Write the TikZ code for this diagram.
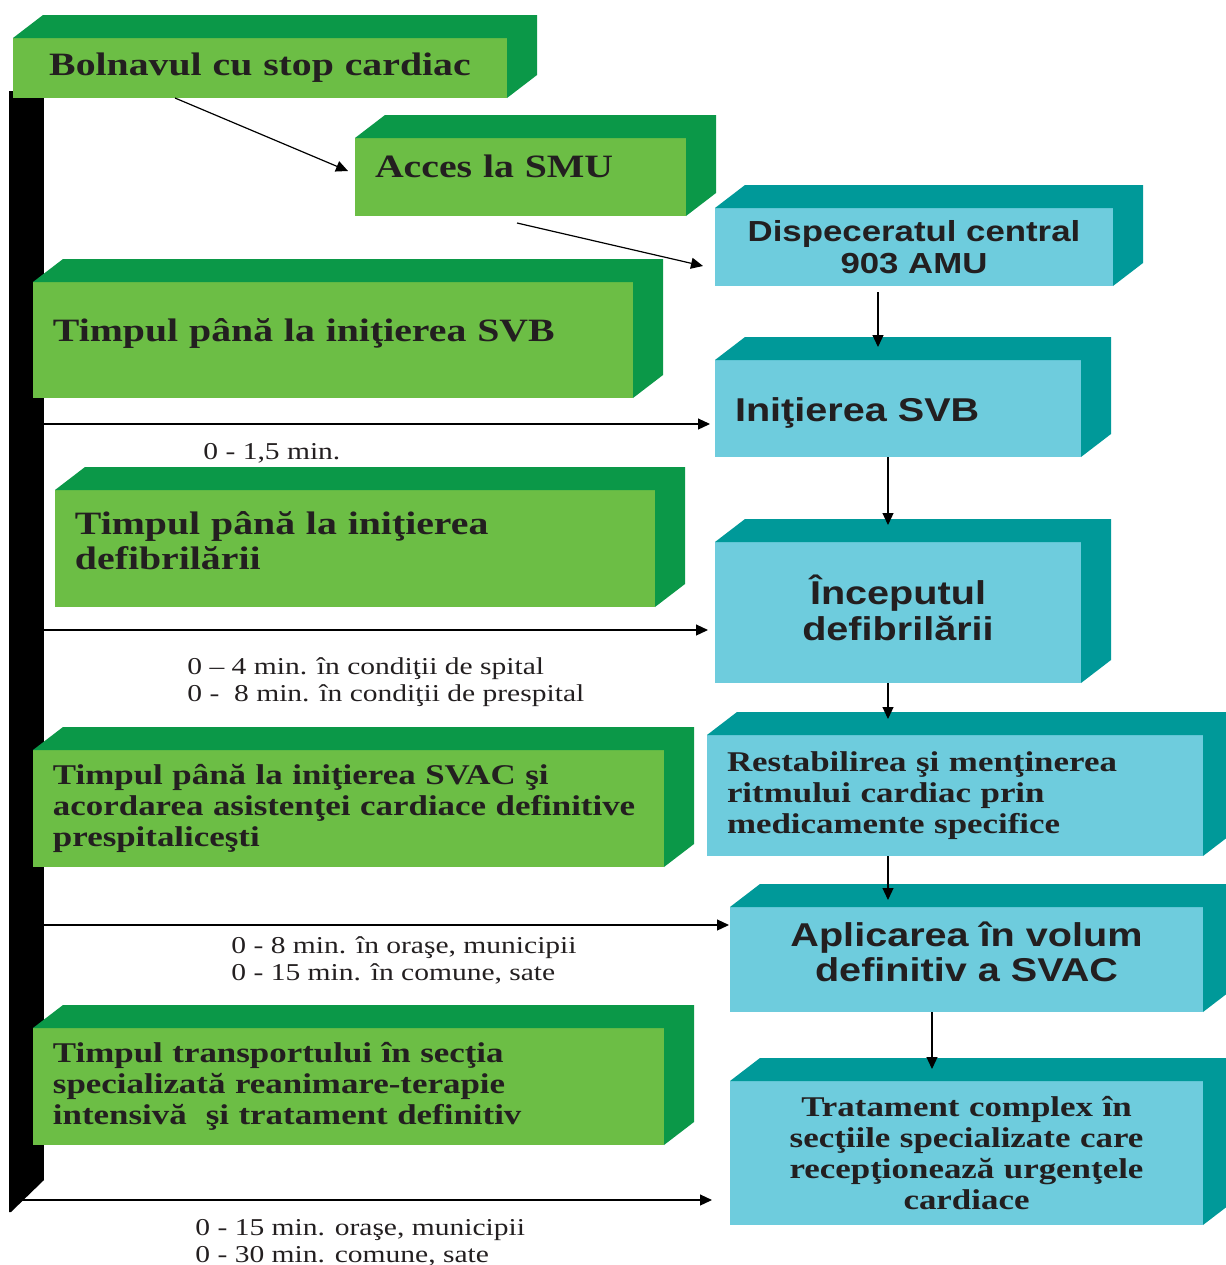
\documentclass[tikz,border=0pt]{standalone}
\usepackage{fontspec}
\setmainfont{Liberation Serif}[FakeStretch=1.22]
\setsansfont{Liberation Sans}[FakeStretch=1.2]
\usepackage{tikz}
\usetikzlibrary{arrows.meta,positioning}

\definecolor{gfront}{RGB}{108,190,69}
\definecolor{gdark}{RGB}{11,152,72}
\definecolor{cfront}{RGB}{110,204,221}
\definecolor{cdark}{RGB}{0,153,153}
\definecolor{ink}{RGB}{35,31,32}

\begin{document}
\begin{tikzpicture}[x=0.5pt,y=-0.5pt]
  % Settings
  \tikzset{
    gbox/.style={fill=gfront, text=ink, outer sep=0pt, inner xsep=10pt},
    cbox/.style={fill=cfront, text=ink, outer sep=0pt, inner xsep=10pt},
    gbig/.style={font=\bfseries\fontsize{16.3}{17.5}\selectfont},
    gmid/.style={font=\bfseries\fontsize{14.3}{15.5}\selectfont},
    smid/.style={font=\sffamily\bfseries\fontsize{14.5}{16}\selectfont},
    sbig/.style={font=\sffamily\bfseries\fontsize{16.5}{17.8}\selectfont},
    lbl/.style={font=\fontsize{12.1}{13.5}\selectfont, text=ink, inner sep=0pt, align=left, anchor=west},
    arr/.style={-{Triangle[length=6pt,width=5.5pt]}, line width=0.6pt},
  }
  \useasboundingbox (0,0) rectangle (1226,1265);

  % Time axis
  \node[fill=black, minimum width=17.5pt, minimum height=544.5pt, inner sep=0pt, outer sep=0pt] (bar) at (26.5,635.5) {};
  \fill (bar.south west) -- (bar.south east) -- ++(-33,32) -- ++(-2,0) -- cycle;

  % Left column (intervals)
  \node[gbox, gbig, minimum width=247pt, minimum height=30pt, text width=227pt, align=center] (b1) at (260,68) {Bolnavul cu stop cardiac};
  \node[gbox, gbig, minimum width=165.5pt, minimum height=39pt, text width=145.5pt, align=left, text depth=11pt] (b2) at (520.5,177) {Acces la SMU};
  \node[gbox, gbig, minimum width=300pt, minimum height=58pt, text width=280pt, align=left, text depth=10.5pt] (b4) at (333,340) {Timpul până la iniţierea SVB};
  \node[gbox, gbig, minimum width=300pt, minimum height=58.5pt, text width=280pt, align=left, text depth=25.5pt] (b6) at (355,548.5) {Timpul până la iniţierea\\defibrilării};
  \node[gbox, gmid, minimum width=315.5pt, minimum height=58.5pt, text width=295.5pt, align=left] (b8) at (348.5,808.5) {Timpul până la iniţierea SVAC şi\\acordarea asistenţei cardiace definitive\\prespitaliceşti};
  \node[gbox, gmid, minimum width=315.5pt, minimum height=58.5pt, text width=295.5pt, align=left] (b10) at (348.5,1086.5) {Timpul transportului în secţia\\specializată reanimare-terapie\\intensivă\ \ şi tratament definitiv};

  % Right column (steps)
  \node[cbox, smid, minimum width=199pt, minimum height=39pt, text width=179pt, align=center] (b3) at (914,247) {Dispeceratul central\\903 AMU};
  \node[cbox, sbig, minimum width=183pt, minimum height=48.5pt, text width=163pt, align=left, text height=16.5pt] (b5) at (898,408.5) {Iniţierea SVB};
  \node[cbox, sbig, minimum width=183pt, minimum height=70.5pt, text width=163pt, align=center, text depth=22.8pt] (b7) at (898,612.5) {Începutul\\defibrilării};
  \node[cbox, gmid, minimum width=248pt, minimum height=60.5pt, text width=228pt, align=left] (b9) at (955,795.5) {Restabilirea şi menţinerea\\ritmului cardiac prin\\medicamente specifice};
  \node[cbox, sbig, minimum width=236.5pt, minimum height=52.5pt, text width=216.5pt, align=center, text depth=25.8pt] (b11) at (966.5,959.5) {Aplicarea în volum\\definitiv a SVAC};
  \node[cbox, gmid, minimum width=236.5pt, minimum height=72pt, text width=216.5pt, align=center] (b12) at (966.5,1153) {Tratament complex în\\secţiile specializate care\\recepţionează urgenţele\\cardiace};

  % 3D faces
  \foreach \n in {b1,b2,b4,b6,b8,b10}
    \fill[gdark] (\n.north west) -- ++(30,-23) -- ([shift={(30,-23)}]\n.north east) -- ([shift={(30,-23)}]\n.south east) -- (\n.south east) -- (\n.north east) -- cycle;
  \foreach \n in {b3,b5,b7,b9,b11,b12}
    \fill[cdark] (\n.north west) -- ++(30,-23) -- ([shift={(30,-23)}]\n.north east) -- ([shift={(30,-23)}]\n.south east) -- (\n.south east) -- (\n.north east) -- cycle;

  % Flow arrows
  \draw[arr] ([xshift=-42.5pt]b1.south) -- ([xshift=-3.5pt,yshift=3pt]b2.west);
  \draw[arr] ([xshift=-1.75pt,yshift=-3.5pt]b2.south) -- ([xshift=-6pt,yshift=-9.5pt]b3.west);
  \draw[arr] ([xshift=-18pt,yshift=-3pt]b3.south) -- ([xshift=-10pt,yshift=6.5pt]b5.north);
  \draw[arr] ([xshift=-5pt]b5.south) -- ([xshift=-5pt,yshift=8.5pt]b7.north);
  \draw[arr] ([xshift=-5pt]b7.south) -- ([xshift=-33.5pt,yshift=8pt]b9.north);
  \draw[arr] ([xshift=-33.5pt]b9.south) -- ([xshift=-39.25pt,yshift=3.5pt]b11.north);
  \draw[arr] ([xshift=-17.25pt]b11.south) -- ([xshift=-17.25pt,yshift=6pt]b12.north);

  % Time arrows
  \coordinate (t1) at ([xshift=-2.5pt,yshift=-7.75pt]b5.west);
  \coordinate (t2) at ([xshift=-3.5pt,yshift=-8.75pt]b7.west);
  \coordinate (t3) at ([xshift=-0.5pt,yshift=17.25pt]b11.west);
  \coordinate (t4) at ([xshift=-9pt,yshift=-23.5pt]b12.west);
  \draw[arr] (bar.east |- t1) -- (t1);
  \draw[arr] (bar.west |- t2) -- (t2);
  \draw[arr] (bar.west |- t3) -- (t3);
  \draw[arr] (bar.west |- t4) -- (t4);

  % Time labels
  \node[lbl] (l1) at (203,453) {0 - 1,5 min.};
  \node[lbl] (l2) at (187,682) {0 – 4 min. în condiţii de spital\\0 -\ \ 8 min. în condiţii de prespital};
  \node[lbl] (l3) at (231,960) {0 - 8 min. în oraşe, municipii\\0 - 15 min. în comune, sate};
  \node[lbl] (l4) at (195,1243) {0 - 15 min. oraşe, municipii\\0 - 30 min. comune, sate};

\end{tikzpicture}
\end{document}
